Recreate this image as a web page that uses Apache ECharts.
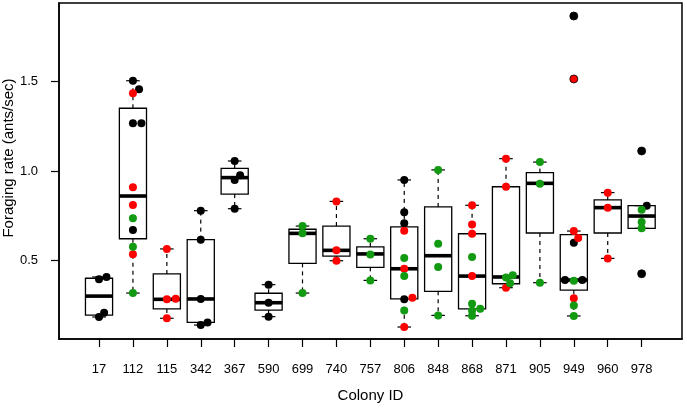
<!DOCTYPE html>
<html><head><meta charset="utf-8">
<script src="https://cdn.jsdelivr.net/npm/echarts@6/dist/echarts.min.js"></script>
<style>html,body{margin:0;padding:0;background:#fff}#c{width:687px;height:408px}</style>
</head><body><div id="c"></div>
<script>
// ---- data ----
const colonies = ['17','112','115','342','367','590','699','740','757','806','848','868','871','905','949','960','978'];
const yTicks = [0.5, 1.0, 1.5];

// box statistics per colony (lower whisker, Q1, median, Q3, upper whisker)
const whiskerLow  = [0.183, 0.317, 0.176, 0.138, 0.789, 0.185, 0.317, 0.498, 0.388, 0.127, 0.192, 0.190, 0.347, 0.375, 0.189, 0.511, 0.679];
const quart1      = [0.194, 0.621, 0.228, 0.153, 0.871, 0.222, 0.483, 0.524, 0.461, 0.285, 0.327, 0.228, 0.369, 0.653, 0.334, 0.653, 0.679];
const medians     = [0.300, 0.860, 0.282, 0.284, 0.963, 0.263, 0.651, 0.556, 0.536, 0.453, 0.526, 0.412, 0.407, 0.931, 0.390, 0.795, 0.748];
const quart3      = [0.400, 1.351, 0.424, 0.616, 1.015, 0.316, 0.674, 0.692, 0.576, 0.687, 0.799, 0.649, 0.912, 0.991, 0.644, 0.838, 0.806];
const whiskerHigh = [0.407, 1.505, 0.564, 0.778, 1.056, 0.364, 0.692, 0.830, 0.621, 0.950, 1.006, 0.808, 1.069, 1.050, 0.664, 0.879, 0.806];

// observations: [colony, foraging rate]
const blackPoints = [
  ['17',0.394],['17',0.407],['17',0.183],['17',0.207],
  ['112',1.505],['112',1.457],['112',1.267],['112',1.267],['112',0.670],
  ['342',0.778],['342',0.616],['342',0.284],['342',0.138],['342',0.153],
  ['367',1.056],['367',0.976],['367',0.950],['367',0.789],
  ['590',0.364],['590',0.263],['590',0.185],
  ['806',0.950],['806',0.769],['806',0.707],['806',0.282],
  ['949',1.867],['949',0.599],['949',0.390],['949',0.390],
  ['978',1.112],['978',0.806],['978',0.425]
];
const blackJitter = [0,0.22,0,0.15, 0,0.18,0,0.25,0, 0,0,0,0,0.2, 0,0.16,0,0, 0,0,0, 0,0,0,0, 0,0,-0.26,0.25, 0,0.15,0];

const redPoints = [
  ['112',1.435],['112',0.909],['112',0.810],['112',0.534],
  ['115',0.564],['115',0.282],['115',0.285],['115',0.176],
  ['740',0.830],['740',0.556],['740',0.498],
  ['806',0.666],['806',0.453],['806',0.291],['806',0.127],
  ['868',0.808],['868',0.700],['868',0.649],['868',0.412],
  ['871',1.069],['871',0.912],['871',0.347],
  ['949',1.515],['949',0.664],['949',0.625],['949',0.288],
  ['960',0.879],['960',0.795],['960',0.511]
];
const redJitter = [0,0,0,0, 0,0,0.26,0, 0,0,0, 0,0,0.24,0, 0,0,0,0, 0,0,0, 0,0,0.13,0, 0,0,0];

const greenPoints = [
  ['112',0.735],['112',0.576],['112',0.317],
  ['699',0.692],['699',0.651],['699',0.317],
  ['757',0.621],['757',0.533],['757',0.388],
  ['806',0.513],['806',0.412],['806',0.220],
  ['848',1.006],['848',0.593],['848',0.463],['848',0.192],
  ['868',0.519],['868',0.257],['868',0.218],['868',0.229],['868',0.190],
  ['871',0.404],['871',0.416],['871',0.372],
  ['905',1.050],['905',0.929],['905',0.375],
  ['949',0.386],['949',0.248],['949',0.189],
  ['978',0.783],['978',0.715],['978',0.679]
];
const greenJitter = [0,0,0, 0,0,0, 0,0,0, 0,0,0, 0,0,0,0, 0,0,0,0.24,0, 0,0.2,0.12, 0,0,0, 0,0,0, 0,0,0];

// boxplot outliers (drawn as open circles)
const outliers = [['949',1.867],['949',1.515],['978',1.112],['978',0.425]];

// ---- chart ----
const FONT = 'Liberation Sans, Arial, Helvetica, sans-serif';
const pos = id => colonies.indexOf(id) + 1;
const toXY = (list, jit) => list.map((p, i) => [pos(p[0]) + (jit ? jit[i] : 0), p[1]]);
const boxData = colonies.map((c, i) => [i + 1, whiskerLow[i], quart1[i], medians[i], quart3[i], whiskerHigh[i]]);
const xTickVals = colonies.map((c, i) => i + 1);

function renderBox(params, api) {
  const x = api.value(0);
  const lo = api.value(1), a = api.value(2), m = api.value(3), b = api.value(4), hi = api.value(5);
  const c = (xx, yy) => api.coord([xx, yy]);
  const tl = c(x - 0.4, b), br = c(x + 0.4, a);
  const cx = c(x, m)[0];
  const yLo = c(x, lo)[1], yA = br[1], yB = tl[1], yHi = c(x, hi)[1], yM = c(x, m)[1];
  const sL = c(x - 0.2, m)[0], sR = c(x + 0.2, m)[0];
  const stroke = {stroke: '#000', lineWidth: 1.2};
  const dashed = {stroke: '#000', lineWidth: 1.2, lineDash: [4, 4]};
  return {
    type: 'group',
    children: [
      {type: 'line', shape: {x1: cx, y1: yB, x2: cx, y2: yHi}, style: dashed},
      {type: 'line', shape: {x1: cx, y1: yA, x2: cx, y2: yLo}, style: dashed},
      {type: 'line', shape: {x1: sL, y1: yHi, x2: sR, y2: yHi}, style: stroke},
      {type: 'line', shape: {x1: sL, y1: yLo, x2: sR, y2: yLo}, style: stroke},
      {type: 'rect', shape: {x: tl[0], y: tl[1], width: br[0] - tl[0], height: br[1] - tl[1]}, style: {fill: 'none', stroke: '#000', lineWidth: 1.3}},
      {type: 'line', shape: {x1: tl[0], y1: yM, x2: br[0], y2: yM}, style: {stroke: '#000', lineWidth: 3.6}}
    ]
  };
}

const chart = echarts.init(document.getElementById('c'), null, {renderer: 'canvas'});
chart.setOption({
  animation: false,
  backgroundColor: '#fff',
  grid: {left: 59, right: 5, top: 3, bottom: 69, containLabel: false, outerBoundsMode: 'none',
         show: true, borderColor: '#000', borderWidth: 1.5, backgroundColor: 'transparent'},
  xAxis: {
    type: 'value', min: -0.18, max: 18.19,
    splitLine: {show: false},
    axisLine: {show: true, onZero: false, lineStyle: {color: '#000', width: 1.5}},
    axisTick: {show: true, inside: false, length: 8, customValues: xTickVals, lineStyle: {color: '#000', width: 1.2}},
    axisLabel: {customValues: xTickVals, formatter: v => colonies[Math.round(v) - 1], margin: 24, fontSize: 13, color: '#000', fontFamily: FONT},
    name: 'Colony ID', nameLocation: 'middle', nameGap: 49, nameMoveOverlap: false,
    nameTextStyle: {fontSize: 15, color: '#000', fontFamily: FONT}
  },
  yAxis: {
    type: 'value', min: 0.06, max: 1.94,
    splitLine: {show: false},
    axisLine: {show: true, onZero: false, lineStyle: {color: '#000', width: 1.5}},
    axisTick: {show: true, inside: false, length: 8, customValues: yTicks, lineStyle: {color: '#000', width: 1.2}},
    axisLabel: {customValues: yTicks, formatter: v => v.toFixed(1), margin: 21, fontSize: 13, color: '#000', fontFamily: FONT},
    name: 'Foraging rate (ants/sec)', nameLocation: 'middle', nameGap: 43, nameRotate: 90, nameMoveOverlap: false,
    nameTextStyle: {fontSize: 15, color: '#000', fontFamily: FONT, padding: [0, 0, 0, 26]}
  },
  series: [
    {type: 'custom', renderItem: renderBox, data: boxData, z: 2, encode: {x: 0, y: [1, 5]}},
    {type: 'scatter', data: toXY(blackPoints, blackJitter), symbol: 'circle', symbolSize: 8, itemStyle: {color: '#000', opacity: 1}, z: 3},
    {type: 'scatter', data: toXY(redPoints, redJitter), symbol: 'circle', symbolSize: 8, itemStyle: {color: '#ff0000', opacity: 1}, z: 3},
    {type: 'scatter', data: toXY(greenPoints, greenJitter), symbol: 'circle', symbolSize: 8, itemStyle: {color: '#129a12', opacity: 1}, z: 3},
    {type: 'scatter', data: toXY(outliers), symbol: 'circle', symbolSize: 8, itemStyle: {color: 'none', borderColor: '#000', borderWidth: 0.8, opacity: 1}, z: 4}
  ]
});
</script>
</body></html>
